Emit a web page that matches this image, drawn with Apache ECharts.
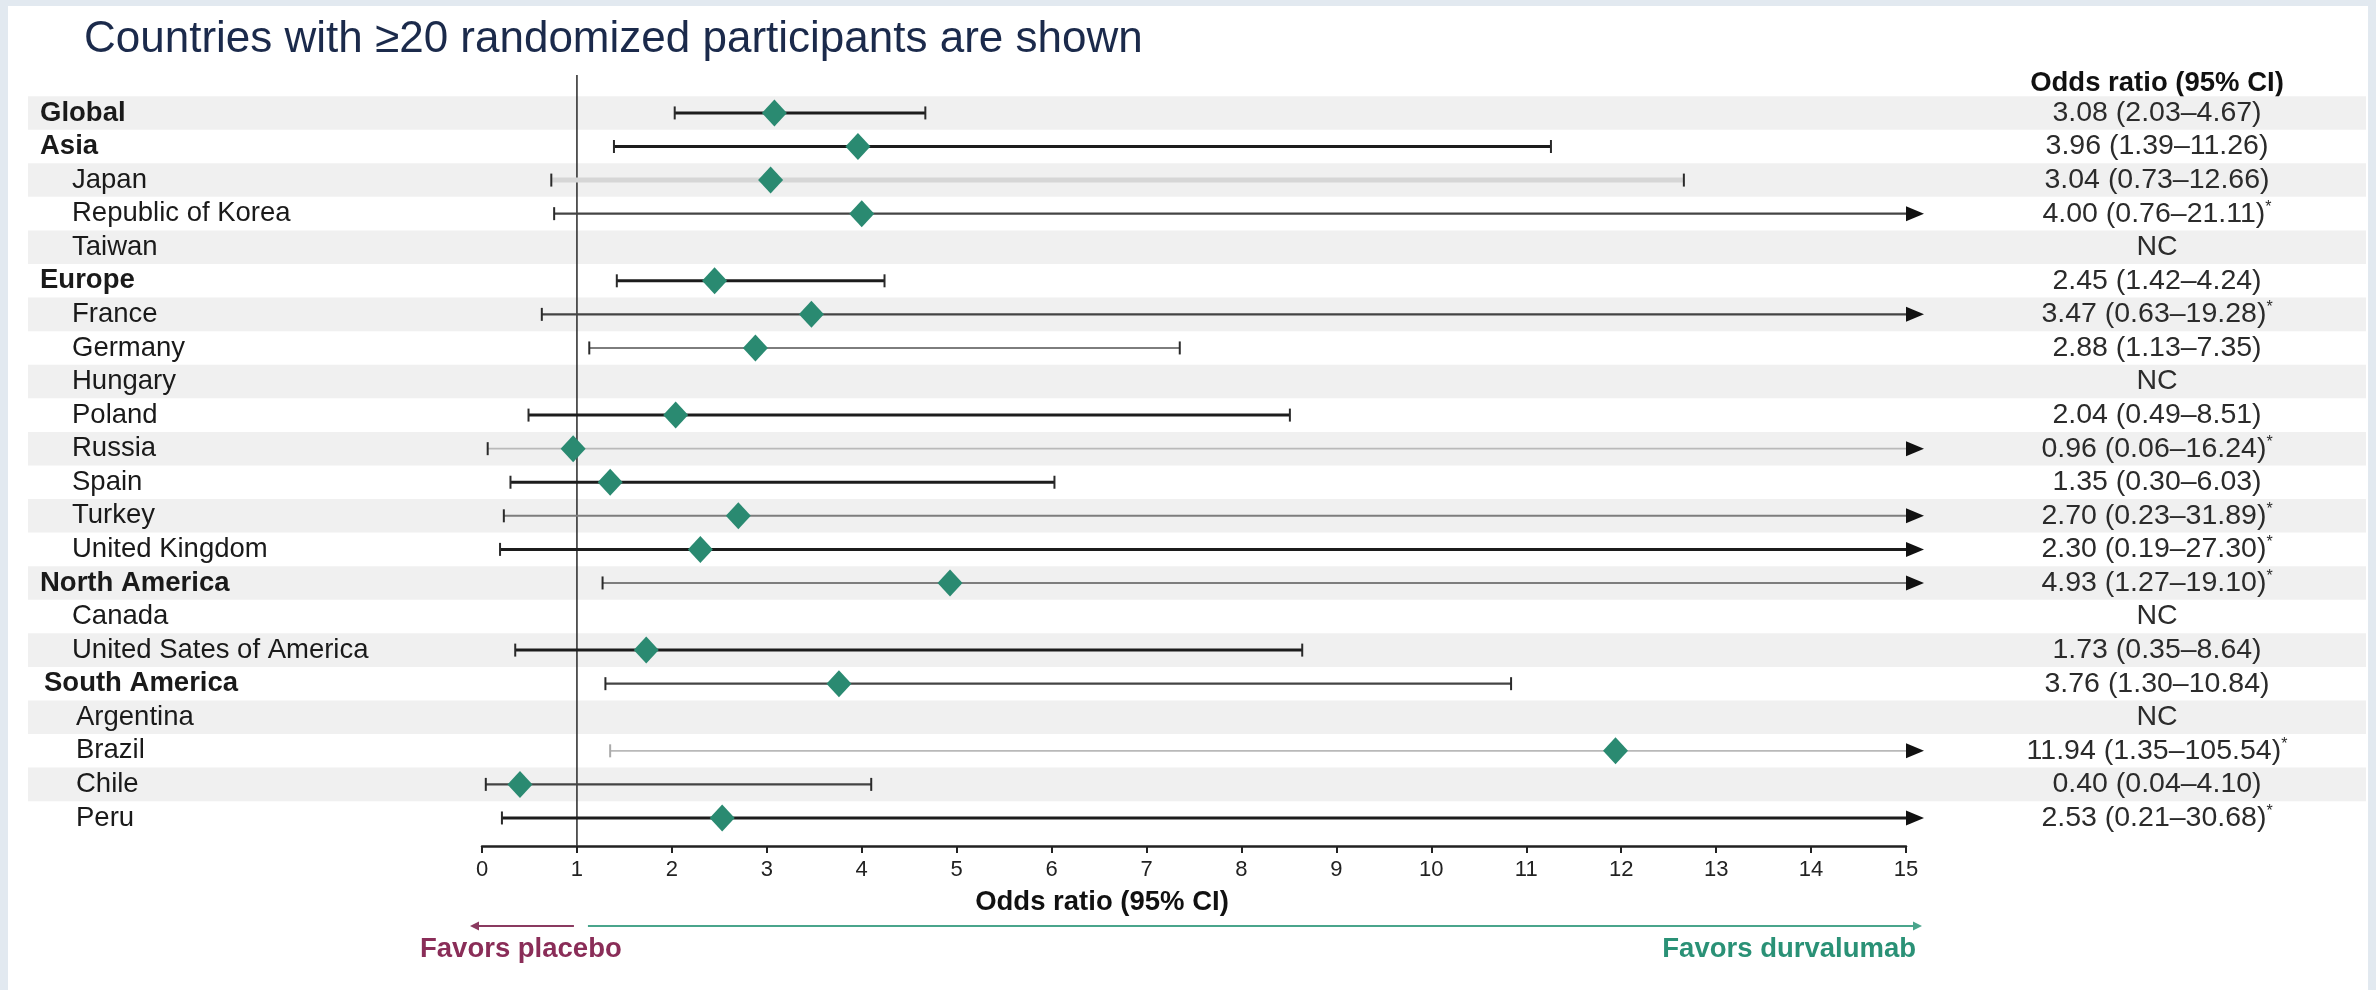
<!DOCTYPE html>
<html>
<head>
<meta charset="utf-8">
<script src="https://cdn.jsdelivr.net/npm/echarts@6/dist/echarts.min.js"></script>
<style>
  html, body { margin: 0; padding: 0; background: #e2e9f0; }
  #chart { width: 2376px; height: 990px; }
</style>
</head>
<body>
<div id="chart"></div>
<script>
// Rows of the forest plot, top to bottom
const categories = [
  'Global', 'Asia', 'Japan', 'Republic of Korea', 'Taiwan',
  'Europe', 'France', 'Germany', 'Hungary', 'Poland', 'Russia', 'Spain',
  'Turkey', 'United Kingdom', 'North America', 'Canada',
  'United Sates of America', 'South America', 'Argentina', 'Brazil', 'Chile', 'Peru'
];
const regionRows = ['Global', 'Asia', 'Europe', 'North America', 'South America'];

// Odds ratio with 95% CI (null = not calculable)
const oddsRatio = [3.08, 3.96, 3.04, 4.00, null, 2.45, 3.47, 2.88, null, 2.04, 0.96, 1.35,
                   2.70, 2.30, 4.93, null, 1.73, 3.76, null, 11.94, 0.40, 2.53];
const ciLower   = [2.03, 1.39, 0.73, 0.76, null, 1.42, 0.63, 1.13, null, 0.49, 0.06, 0.30,
                   0.23, 0.19, 1.27, null, 0.35, 1.30, null, 1.35, 0.04, 0.21];
const ciUpper   = [4.67, 11.26, 12.66, 21.11, null, 4.24, 19.28, 7.35, null, 8.51, 16.24, 6.03,
                   31.89, 27.30, 19.10, null, 8.64, 10.84, null, 105.54, 4.10, 30.68];

// x-axis ticks
const xTickMin = 0;
const xTickMax = 15;
const xTickStep = 1;

// Line shade for each CI bar (k = black ... l = faint)
const lineShade = ['k', 'k', 'l', 'd', '-', 'k', 'd', 'm', '-', 'k', 'f', 'k',
                   'm', 'k', 'm', '-', 'k', 'd', '-', 'f', 'd', 'k'];
const shadeStyles = {
  k: { stroke: '#1c1c1c', lineWidth: 3 },
  d: { stroke: '#444444', lineWidth: 2.2 },
  m: { stroke: '#7d7d7d', lineWidth: 2 },
  f: { stroke: '#b9b9b9', lineWidth: 1.8 },
  l: { stroke: '#d6d6d6', lineWidth: 5 }
};

const FONT = "'Liberation Sans', Arial, sans-serif";
const Y_MIN = -1.13, Y_MAX = 21.835;
const TEAL = '#2a8a71';

const isRegion = name => regionRows.indexOf(name) >= 0;
const fmt = v => v.toFixed(2);

const ciData = [];
const diamondData = [];
categories.forEach((name, i) => {
  if (oddsRatio[i] == null) return;
  ciData.push([ciLower[i], i, ciUpper[i]]);
  diamondData.push([oddsRatio[i], i]);
});

const chart = echarts.init(document.getElementById('chart'), null, { renderer: 'canvas' });

chart.setOption({
  backgroundColor: '#e2e9f0',
  animation: false,
  grid: { left: 482, right: 470, top: 75, bottom: 144 },
  xAxis: {
    type: 'value', min: xTickMin, max: xTickMax, interval: xTickStep,
    axisLine: { show: true, onZero: false, lineStyle: { color: '#222', width: 2.5 } },
    axisTick: { show: true, length: 7, lineStyle: { color: '#222', width: 2 } },
    axisLabel: { fontSize: 22, color: '#222', margin: 13, fontFamily: FONT },
    splitLine: { show: false }
  },
  yAxis: { type: 'value', inverse: true, min: Y_MIN, max: Y_MAX, show: false },
  graphic: [
    { type: 'rect', z: -10, silent: true,
      shape: { x: 8, y: 6, width: 2360, height: 984 }, style: { fill: '#ffffff' } },
    { type: 'text', x: 84, y: 40, silent: true,
      style: { text: 'Countries with \u226520 randomized participants are shown', fill: '#1b2a4b',
               font: `44px ${FONT}`, verticalAlign: 'middle' } },
    { type: 'text', x: 2157, y: 83, silent: true,
      style: { text: 'Odds ratio (95% CI)', fill: '#111', font: `bold 27.5px ${FONT}`,
               align: 'center', verticalAlign: 'middle' } },
    { type: 'text', x: 1102, y: 902, silent: true,
      style: { text: 'Odds ratio (95% CI)', fill: '#111', font: `bold 27.5px ${FONT}`,
               align: 'center', verticalAlign: 'middle' } },
    { type: 'text', x: 420, y: 949, silent: true,
      style: { text: 'Favors placebo', fill: '#8a2d58', font: `bold 27.5px ${FONT}`,
               align: 'left', verticalAlign: 'middle' } },
    { type: 'text', x: 1916, y: 949, silent: true,
      style: { text: 'Favors durvalumab', fill: '#2a9176', font: `bold 27.5px ${FONT}`,
               align: 'right', verticalAlign: 'middle' } }
  ],
  series: [
    // alternating row shading
    {
      type: 'custom', z: 0, clip: false, silent: true,
      data: categories.map((c, i) => [0, i]).filter(d => d[1] % 2 === 0),
      renderItem: (params, api) => {
        const p = api.coord([0, api.value(1)]);
        const h = api.size([0, 1])[1];
        return { type: 'rect', shape: { x: 28, y: p[1] - h / 2, width: 2338, height: h },
                 style: { fill: '#f0f0f0' } };
      }
    },
    // reference line at OR = 1
    {
      type: 'custom', z: 1, clip: false, silent: true,
      data: [[1, 0]],
      renderItem: (params, api) => {
        const a = api.coord([api.value(0), Y_MIN]);
        const b = api.coord([api.value(0), Y_MAX]);
        return { type: 'line', shape: { x1: a[0], y1: a[1], x2: b[0], y2: b[1] },
                 style: { stroke: '#333', lineWidth: 1.6 } };
      }
    },
    // confidence intervals, with arrows where the upper limit runs off the axis
    {
      type: 'custom', z: 2, clip: false, silent: true,
      encode: { x: [0, 2], y: 1 },
      data: ciData,
      renderItem: (params, api) => {
        const lo = api.value(0), row = api.value(1), hi = api.value(2);
        const st = shadeStyles[lineShade[row]];
        const p0 = api.coord([lo, row]);
        const p1 = api.coord([Math.min(hi, xTickMax), row]);
        const capColor = row === 19 ? '#aaaaaa' : '#2a2a2a';
        const children = [
          { type: 'line', shape: { x1: p0[0], y1: p0[1], x2: p1[0], y2: p1[1] },
            style: { stroke: st.stroke, lineWidth: st.lineWidth } },
          { type: 'line', shape: { x1: p0[0], y1: p0[1] - 6.5, x2: p0[0], y2: p0[1] + 6.5 },
            style: { stroke: capColor, lineWidth: 2 } }
        ];
        if (hi <= xTickMax) {
          children.push({ type: 'line', shape: { x1: p1[0], y1: p1[1] - 6.5, x2: p1[0], y2: p1[1] + 6.5 },
                          style: { stroke: capColor, lineWidth: 2 } });
        } else {
          children.push({ type: 'polygon',
                          shape: { points: [[p1[0], p1[1] - 7.5], [p1[0] + 18, p1[1]], [p1[0], p1[1] + 7.5]] },
                          style: { fill: '#111' } });
        }
        return { type: 'group', children };
      }
    },
    // point estimates
    {
      type: 'scatter', z: 3, silent: true,
      symbol: 'diamond', symbolSize: [25, 27],
      itemStyle: { color: TEAL, opacity: 1 },
      data: diamondData
    },
    // row labels on the left
    {
      type: 'custom', z: 4, clip: false, silent: true,
      data: categories.map((c, i) => [0, i]),
      renderItem: (params, api) => {
        const row = api.value(1);
        const name = categories[row];
        const p = api.coord([0, row]);
        const inSouth = row >= categories.indexOf('South America');
        const x = (isRegion(name) ? 40 : 72) + (inSouth ? 4 : 0);
        return { type: 'text', x: x, y: p[1],
                 style: { text: name, fill: '#1a1a1a',
                          font: `${isRegion(name) ? 'bold ' : ''}27.5px ${FONT}`,
                          align: 'left', verticalAlign: 'middle' } };
      }
    },
    // odds ratio column on the right
    {
      type: 'custom', z: 4, clip: false, silent: true,
      data: categories.map((c, i) => [0, i]),
      renderItem: (params, api) => {
        const row = api.value(1);
        const p = api.coord([0, row]);
        let text;
        if (oddsRatio[row] == null) {
          text = '{v|NC}';
        } else {
          text = `{v|${fmt(oddsRatio[row])} (${fmt(ciLower[row])}\u2013${fmt(ciUpper[row])})}`;
          if (ciUpper[row] > xTickMax) text += '{s|*}';
        }
        return { type: 'text', x: 2157, y: p[1],
                 style: { text: text, align: 'center', verticalAlign: 'middle',
                          rich: {
                            v: { fontSize: 28.5, fontFamily: FONT, fill: '#2b2b2b', color: '#2b2b2b' },
                            s: { fontSize: 16, fontFamily: FONT, fill: '#2b2b2b', color: '#2b2b2b', verticalAlign: 'top' }
                          } } };
      }
    },
    // direction-of-benefit arrows under the axis
    {
      type: 'custom', z: 4, clip: false, silent: true,
      data: [[0, 0]],
      renderItem: (params, api) => {
        const a0 = api.coord([0, Y_MAX]);
        const a1 = api.coord([1, Y_MAX]);
        const a15 = api.coord([xTickMax, Y_MAX]);
        const y = a0[1] + 80;
        const maroon = '#8a3a60', green = '#4aa58c';
        return { type: 'group', children: [
          { type: 'line', shape: { x1: a0[0] - 5, y1: y, x2: a1[0] - 3, y2: y },
            style: { stroke: maroon, lineWidth: 2 } },
          { type: 'polygon', shape: { points: [[a0[0] - 12, y], [a0[0] - 3, y - 4.5], [a0[0] - 3, y + 4.5]] },
            style: { fill: maroon } },
          { type: 'line', shape: { x1: a1[0] + 11, y1: y, x2: a15[0] + 8, y2: y },
            style: { stroke: green, lineWidth: 2 } },
          { type: 'polygon', shape: { points: [[a15[0] + 16, y], [a15[0] + 7, y - 4.5], [a15[0] + 7, y + 4.5]] },
            style: { fill: green } }
        ] };
      }
    }
  ]
});
</script>
</body>
</html>
